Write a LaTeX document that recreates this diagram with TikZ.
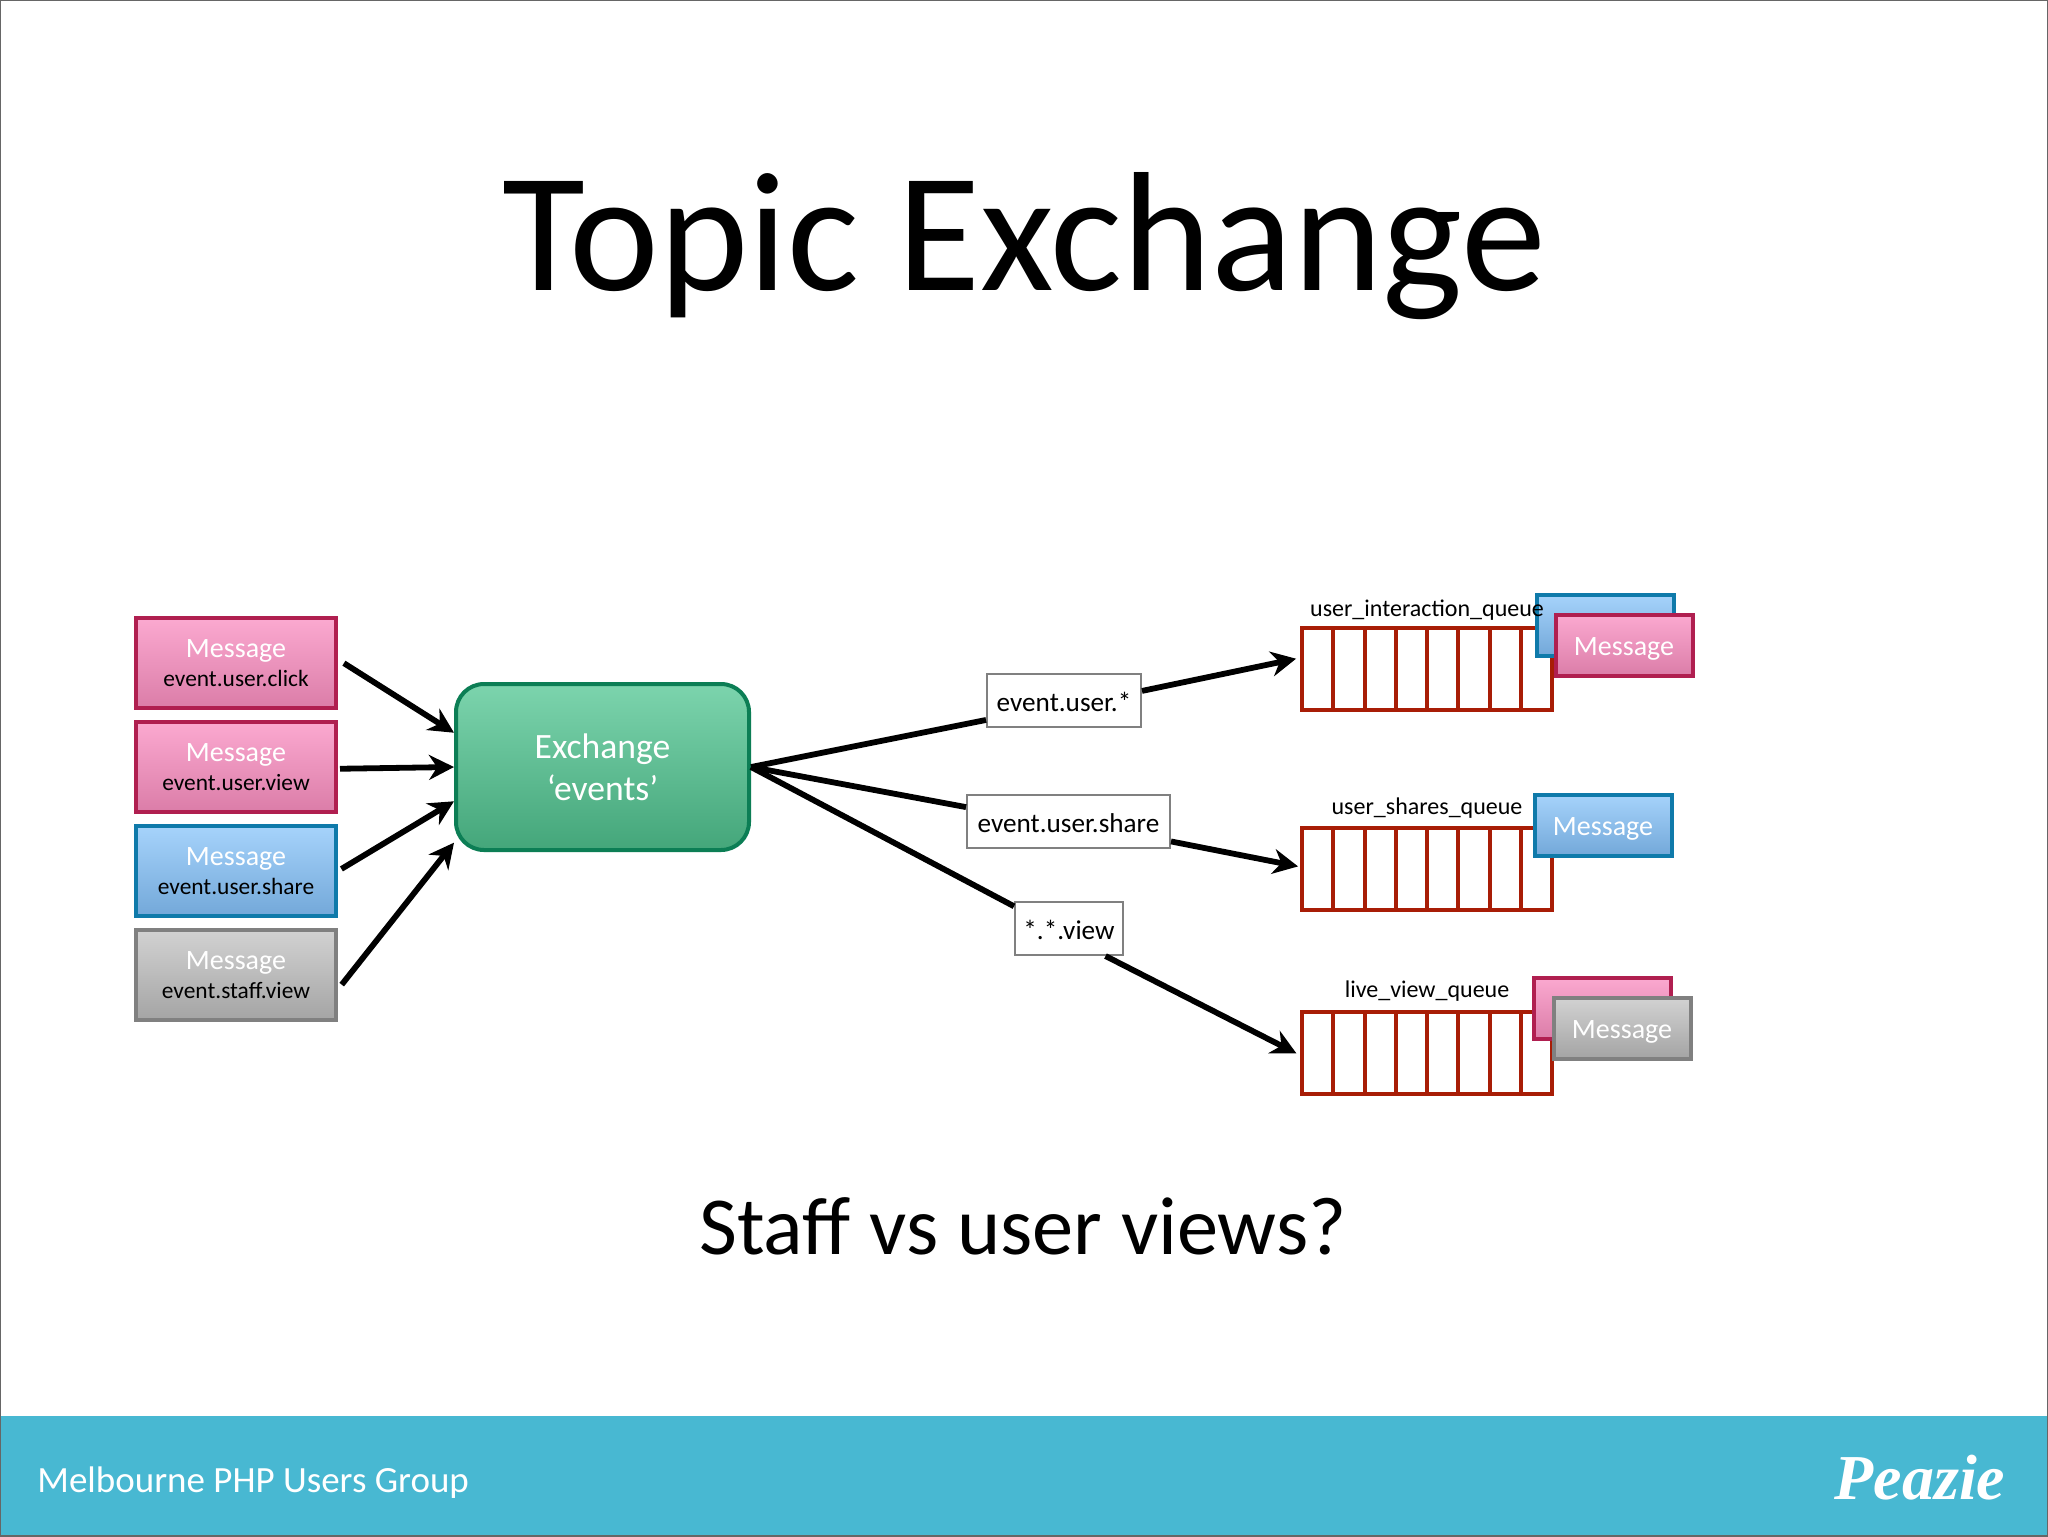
\documentclass[tikz,border=0pt]{standalone}
\usepackage{fontspec}
\setmainfont{Carlito}
\newfontfamily\logofont{Liberation Serif}
\usetikzlibrary{arrows.meta}
\usetikzlibrary{calc}
\tikzset{>={Stealth[length=12.5pt,width=12.5pt]}}
\definecolor{pinkline}{HTML}{B01F50}
\definecolor{pinktop}{HTML}{FBA9D0}
\definecolor{pinkbot}{HTML}{DB7DA8}
\definecolor{blueline}{HTML}{0F7AAA}
\definecolor{bluetop}{HTML}{A6D3FB}
\definecolor{bluebot}{HTML}{73A8D9}
\definecolor{greyline}{HTML}{808080}
\definecolor{greytop}{HTML}{D2D2D2}
\definecolor{greybot}{HTML}{A4A4A4}
\definecolor{greenline}{HTML}{0C7E55}
\definecolor{greentop}{HTML}{7CD4AD}
\definecolor{greenbot}{HTML}{44A67A}
\definecolor{queuered}{HTML}{A81D06}
\definecolor{footerblue}{HTML}{48B8D2}
\tikzstyle{msgbox} = [rectangle, line width=2pt, minimum width=100pt, minimum height=45pt, inner sep=0pt, align=center]
\tikzstyle{pinkmsg} = [msgbox, draw=pinkline, top color=pinktop, bottom color=pinkbot]
\tikzstyle{bluemsg} = [msgbox, draw=blueline, top color=bluetop, bottom color=bluebot]
\tikzstyle{greymsg} = [msgbox, draw=greyline, top color=greytop, bottom color=greybot]
\tikzstyle{smallmsg} = [minimum width=68.5pt, minimum height=30.5pt, text=white, text height=13.5pt, text depth=3pt, font=\fontsize{14}{14}\selectfont]
\tikzstyle{exchange} = [rectangle, rounded corners=14pt, line width=2pt, minimum width=146.5pt, minimum height=83pt, draw=greenline, top color=greentop, bottom color=greenbot, text=white, align=center, font=\fontsize{17.8}{21}\selectfont]
\tikzstyle{queue} = [rectangle, draw=queuered, line width=2pt, minimum width=125pt, minimum height=40.75pt, path picture={
	\foreach \cell in {1,...,7}
		\draw[queuered, line width=2pt] ($(path picture bounding box.south west)!\cell/8!(path picture bounding box.south east)$) -- ++(0,45pt);}]
\tikzstyle{queuename} = [font=\fontsize{12}{12}\selectfont, inner sep=0pt]
\tikzstyle{keybox} = [rectangle, draw=greyline, line width=1pt, fill=white, text height=13.5pt, text depth=3pt, font=\fontsize{13.6}{13.6}\selectfont, inner sep=0pt]
\tikzstyle{wire} = [line width=2.9pt]
\tikzstyle{arrow} = [wire,->]
\newcommand{\msgname}[1]{{\color{white}\fontsize{14}{14}\selectfont #1}}
\newcommand{\msgkey}[1]{{\fontsize{11.7}{11.7}\selectfont #1}}
\begin{document}
\begin{tikzpicture}[x=0.5pt,y=-0.5pt,node distance=52pt]
	\useasboundingbox (0,0) rectangle (2048,1536);
	\fill[white] (0,0) rectangle (2048,1536);
	\fill[footerblue] (0,1416) rectangle (2048,1536);
	\draw[black!60, line width=1pt] (0,0) rectangle (2048,1536);
	\node (title) [anchor=base, inner sep=0pt, font=\fontsize{85}{85}\selectfont] at (1024,290) {Topic Exchange};
	\node (question) [anchor=base, inner sep=0pt, font=\fontsize{41.2}{41.2}\selectfont] at (1023,1254) {Staff vs user views?};
	\node (group) [anchor=base west, inner sep=0pt, text=white, font=\fontsize{18.5}{18.5}\selectfont] at (37,1492) {Melbourne PHP Users Group};
	\node (logo) [inner sep=0pt, text=white, font=\logofont\bfseries\itshape\fontsize{32}{32}\selectfont] at (1920,1478) {Peazie};
	% senders
	\node (msg1) [pinkmsg] at (236,663) {\msgname{Message}\\[2.6pt]\msgkey{event.user.click}};
	\node (msg2) [pinkmsg, below of=msg1] {\msgname{Message}\\[2.6pt]\msgkey{event.user.view}};
	\node (msg3) [bluemsg, below of=msg2] {\msgname{Message}\\[2.6pt]\msgkey{event.user.share}};
	\node (msg4) [greymsg, below of=msg3] {\msgname{Message}\\[2.6pt]\msgkey{event.staff.view}};
	\node (exch) [exchange] at (602.5,767) {Exchange\\`events'};
	% queues
	\node (q1) [queue] at (1427,669) {};
	\node (q2) [queue] at (1427,869) {};
	\node (q3) [queue] at (1427,1053) {};
	\node (q1msga) [bluemsg, smallmsg] at (1605,625) {};
	\node (q1msgb) [pinkmsg, smallmsg] at (1624,645) {Message};
	\node (q2msga) [bluemsg, smallmsg] at (1603,825) {Message};
	\node (q3msga) [pinkmsg, smallmsg] at (1602,1008) {};
	\node (q3msgb) [greymsg, smallmsg] at (1622,1028) {Message};
	\node (q1name) [queuename] at (1427,610) {user\_interaction\_queue};
	\node (q2name) [queuename] at (1427,808) {user\_shares\_queue};
	\node (q3name) [queuename] at (1427,991) {live\_view\_queue};
	% bindings
	\node (key1) [keybox, minimum width=77pt, minimum height=26.5pt] at (1064,700.5) {event.user.*};
	\node (key2) [keybox, minimum width=101.5pt, minimum height=26.5pt] at (1068.5,821.5) {event.user.share};
	\node (key3) [keybox, minimum width=54pt, minimum height=26.5pt] at (1069,928.5) {*.*.view};
	% arrows
	\draw [arrow, shorten <=3.5pt] (msg1.2) -- (exch.167);
	\draw [arrow, shorten <=1pt] (msg2.-1) -- (exch.180.8);
	\draw [arrow, shorten <=2pt] (msg3.east) -- (exch.193.6);
	\draw [arrow, shorten <=3pt] (msg4.-8) -- (exch.207);
	\draw [wire] (exch.east) -- (key1.194);
	\draw [wire] (exch.east) -- (key2.172.5);
	\draw [wire] (exch.east) -- (key3.158);
	\draw [arrow, shorten >=2pt] (key1.7.7) -- (q1.175.5);
	\draw [arrow, shorten >=1pt] (key2.-11.8) -- (q2.179);
	\draw [arrow, shorten >=2pt] (key3.-37.4) -- (q3.181.3);
\end{tikzpicture}
\end{document}
